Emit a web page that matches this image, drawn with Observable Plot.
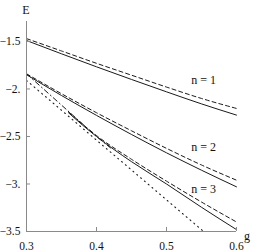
<!DOCTYPE html>
<html>
<head>
<meta charset="utf-8">
<script src="https://cdn.jsdelivr.net/npm/d3@7"></script>
<script src="https://cdn.jsdelivr.net/npm/@observablehq/plot@0.6"></script>
<style>
  html, body { margin: 0; padding: 0; background: #fff; }
  #chart svg { display: block; }
</style>
</head>
<body>
<div id="chart"></div>
<script>
const gValues = [0.30, 0.35, 0.40, 0.45, 0.50, 0.55, 0.60];
const n1Exact = [-1.49, -1.630, -1.767, -1.900, -2.030, -2.157, -2.275];
const n1Approx = [-1.47, -1.600, -1.730, -1.855, -1.980, -2.100, -2.205];
const n2Exact = [-1.85, -2.069, -2.278, -2.479, -2.672, -2.855, -3.03];
const n2Approx = [-1.84, -2.050, -2.250, -2.440, -2.625, -2.800, -2.96];
const gN3 = [0.36, 0.38, 0.40, 0.45, 0.50, 0.55, 0.60];
const n3Exact = [-2.25, -2.38, -2.50, -2.765, -3.00, -3.245, -3.48];
const n3Approx = [-2.24, -2.37, -2.49, -2.74, -2.97, -3.19, -3.40];
const gDashDot = [0.30, 0.35, 0.40, 0.42];
const dashDotE = [-1.84, -2.17, -2.50, -2.62];
const gDotted = [0.30, 0.553];
const dottedE = [-1.91, -3.50];

const labelTexts = ["n = 1", "n = 2", "n = 3"];
const labelG = [0.553, 0.553, 0.553];
const labelE = [-1.91, -2.616, -3.05];

const xTicks = [0.3, 0.4, 0.5, 0.6];
const xTickLabels = ["0.3", "0.4", "0.5", "0.6"];
const yTicks = [-3.5, -3, -2.5, -2, -1.5];
const yTickLabels = ["\u22123.5", "\u22123.", "\u22122.5", "\u22122.", "\u22121.5"];

const toPts = (gs, es) => gs.map((g, i) => ({g, E: es[i]}));
const lineColor = "#1a1a1a";
const axisColor = "#8a8a8a";
const font = "'Liberation Serif', 'Times New Roman', serif";

const solidSeries = [toPts(gValues, n1Exact), toPts(gValues, n2Exact), toPts(gN3, n3Exact)];
const dashSeries = [toPts(gValues, n1Approx), toPts(gValues, n2Approx), toPts(gN3, n3Approx)];

const marks = [];
for (const s of solidSeries) {
  marks.push(Plot.line(s, {x: "g", y: "E", stroke: lineColor, strokeWidth: 1, curve: "monotone-x"}));
}
for (const s of dashSeries) {
  marks.push(Plot.line(s, {x: "g", y: "E", stroke: lineColor, strokeWidth: 1, strokeDasharray: "4,3", curve: "monotone-x"}));
}
marks.push(Plot.line(toPts(gDashDot, dashDotE), {x: "g", y: "E", stroke: lineColor, strokeWidth: 1, strokeDasharray: "5,3,1,3"}));
marks.push(Plot.line(toPts(gDotted, dottedE), {x: "g", y: "E", stroke: lineColor, strokeWidth: 1.1, strokeDasharray: "1,4"}));

marks.push(Plot.text(labelTexts.map((t, i) => ({t, g: labelG[i], E: labelE[i]})), {
  x: "g", y: "E", text: "t", fontSize: 12, fontFamily: font, fill: "#111"
}));

// axes
marks.push(Plot.ruleX([xTicks[0]], {stroke: axisColor, strokeWidth: 1}));
marks.push(Plot.ruleY([yTicks[0]], {stroke: axisColor, strokeWidth: 1}));
marks.push(Plot.axisX(xTicks, {
  tickSize: -4, tickPadding: 14, stroke: axisColor, fill: "#111",
  fontSize: 11.5, fontFamily: font, tickFormat: (d, i) => xTickLabels[i], label: null
}));
marks.push(Plot.axisY(yTicks, {
  tickSize: -4, tickPadding: 10, stroke: axisColor, fill: "#111",
  fontSize: 11.5, fontFamily: font, tickFormat: (d, i) => yTickLabels[i], label: null
}));

const chart = Plot.plot({
  width: 253,
  height: 252,
  marginLeft: 26,
  marginRight: 17,
  marginTop: 21,
  marginBottom: 21,
  style: {fontFamily: font, background: "#fff"},
  x: {domain: [0.3, 0.6]},
  y: {domain: [-3.5, -1.29]},
  marks
});

// axis name labels
const svg = d3.select(chart);
svg.append("text").attr("x", 26).attr("y", 14).attr("text-anchor", "middle")
  .attr("font-family", font).attr("font-size", 12).attr("fill", "#111").text("E");
svg.append("text").attr("x", 247).attr("y", 240).attr("text-anchor", "middle")
  .attr("font-family", font).attr("font-size", 12).attr("fill", "#111").text("g");

document.getElementById("chart").appendChild(chart);
</script>
</body>
</html>
